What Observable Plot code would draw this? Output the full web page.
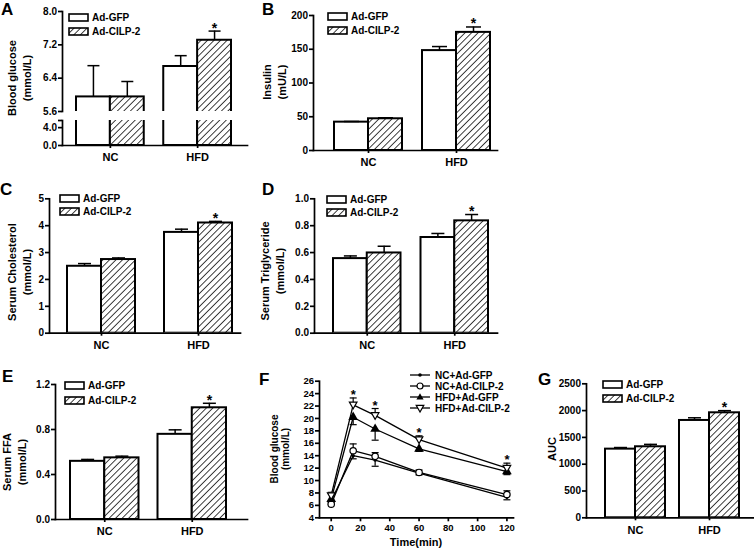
<!DOCTYPE html>
<html><head><meta charset="utf-8">
<script src="https://cdn.jsdelivr.net/npm/d3@7"></script>
<script src="https://cdn.jsdelivr.net/npm/@observablehq/plot@0.6"></script>
<style>
body{margin:0;background:#fff;}
#fig{position:relative;width:754px;height:549px;overflow:hidden;font-family:"Liberation Sans",Arial,sans-serif;font-weight:bold;color:#000;background:#fff;}
.panel{position:absolute;}
.panel svg{overflow:hidden;display:block;}
.panel svg [aria-label*="axis"], .panel svg [aria-label*="axis"] *, .panel svg [aria-label="frame"], .panel svg [aria-label="frame"] *{stroke-width:1.7px;}
.letter{position:absolute;font-size:17px;line-height:1;}
.ytitle{position:absolute;transform:translate(-50%,-50%) rotate(-90deg);white-space:pre;text-align:center;font-size:11px;line-height:15px;}
.leg{position:absolute;display:flex;align-items:center;gap:3px;font-size:10px;line-height:9px;height:9px;white-space:nowrap;}
.xtitle{position:absolute;transform:translate(-50%,-50%);font-size:11px;white-space:nowrap;}
</style>
</head><body>
<svg width="0" height="0" style="position:absolute"><defs>
<pattern id="hatch" patternUnits="userSpaceOnUse" width="4.6" height="4.6" patternTransform="rotate(45)">
<rect width="4.6" height="4.6" fill="white"/><line x1="0" y1="0" x2="0" y2="4.6" stroke="black" stroke-width="1.5"/></pattern>
</defs></svg>
<div id="fig"></div>
<script>
// ---------- data ----------
const groups = ["NC", "HFD"];
const seriesNames = ["Ad-GFP", "Ad-CILP-2"];
const starGroups = ["HFD"];

// A: Blood glucose (mmol/L), broken axis
const glucoseGFP = [5.95, 6.68], glucoseGFPErr = [0.75, 0.26];
const glucoseCILP = [5.95, 7.31], glucoseCILPErr = [0.37, 0.22];
const glucoseUpperDomain = [5.6, 8.0], glucoseUpperTicks = [5.6, 6.4, 7.2, 8.0];
const glucoseLowerDomain = [0, 5.6], glucoseLowerTicks = [0, 4.0, 5.6];
// B: Insulin (mU/L)
const insulinGFP = [42, 148], insulinGFPErr = [1, 6];
const insulinCILP = [47, 175], insulinCILPErr = [1.5, 8];
const insulinTicks = [0, 50, 100, 150, 200];
// C: Serum cholesterol (mmol/L)
const cholGFP = [2.49, 3.75], cholGFPErr = [0.1, 0.12];
const cholCILP = [2.74, 4.10], cholCILPErr = [0.06, 0.06];
const cholTicks = [0, 1, 2, 3, 4, 5];
// D: Serum triglyceride (mmol/L)
const tgGFP = [0.555, 0.712], tgGFPErr = [0.02, 0.03];
const tgCILP = [0.597, 0.836], tgCILPErr = [0.05, 0.047];
const tgTicks = [0, 0.2, 0.4, 0.6, 0.8, 1.0];
// E: Serum FFA (mmol/L)
const ffaGFP = [0.517, 0.757], ffaGFPErr = [0.017, 0.04];
const ffaCILP = [0.548, 0.993], ffaCILPErr = [0.015, 0.04];
const ffaTicks = [0, 0.4, 0.8, 1.2];
// F: glucose tolerance test
const times = [0, 15, 30, 60, 120];
const ipgttSeries = ["NC+Ad-GFP", "NC+Ad-CILP-2", "HFD+Ad-GFP", "HFD+Ad-CILP-2"];
const ncGfpGlucose = [6.8, 14.0, 13.3, 11.2, 7.3], ncGfpErr = [0.6, 0.5, 1.0, 0.3, 0.4];
const ncCilpGlucose = [6.2, 14.8, 13.9, 11.3, 7.75], ncCilpErr = [0.6, 1.1, 0.6, 0.4, 0.6];
const hfdGfpGlucose = [7.0, 20.2, 18.3, 15.1, 11.45], hfdGfpErr = [0.5, 1.2, 1.8, 0.4, 0.5];
const hfdCilpGlucose = [7.6, 22.2, 20.5, 16.6, 12.0], hfdCilpErr = [0.5, 1.1, 1.1, 0.6, 0.8];
const ipgttErrDir = [-1, 1, -1, 1];
const starTimes = [15, 30, 60, 120];
const timeDomain = [-8, 124.5], timeTicks = [0, 20, 40, 60, 80, 100, 120];
const ipgttDomain = [4, 26], ipgttTicks = [4, 6, 8, 10, 12, 14, 16, 18, 20, 22, 24, 26];
// G: AUC
const aucGFP = [1281, 1816], aucGFPErr = [30, 50];
const aucCILP = [1325, 1959], aucCILPErr = [45, 40];
const aucTicks = [0, 500, 1000, 1500, 2000, 2500];

// ---------- helpers ----------
const fig = document.getElementById("fig");
const FONT = '"Liberation Sans", Arial, sans-serif';
const hline = {draw(ctx, size) { const r = Math.sqrt(size / Math.PI); ctx.moveTo(-r, 0); ctx.lineTo(r, 0); }};
const triDown = {draw(ctx, size) { const r = Math.sqrt(size / Math.PI); ctx.moveTo(0, r * 1.05); ctx.lineTo(-r, -r * 0.7); ctx.lineTo(r, -r * 0.7); ctx.closePath(); }};

function rowsOf(gfp, gfpErr, cilp, cilpErr) {
  return groups.flatMap((g, i) => [
    {group: g, series: seriesNames[0], value: gfp[i], err: gfpErr[i]},
    {group: g, series: seriesNames[1], value: cilp[i], err: cilpErr[i]}
  ]);
}
function bandOpts(L) {
  const step = (L.barRight - L.barLeft + L.gap) / 2;
  const w = (step - L.gap) / 2;
  const total = (L.x1 - L.x0) - (L.barRight - L.barLeft);
  return {w, x: {domain: groups, paddingInner: L.gap / step, paddingOuter: total / 2 / step,
    align: total > 0 ? (L.barLeft - L.x0) / total : 0.5, round: false}};
}
function style(fs) {
  return {fontFamily: FONT, fontSize: fs + "px", fontWeight: "bold", background: "transparent", color: "black", overflow: "hidden"};
}
function place(el, left, top, width, xfs) {
  const div = document.createElement("div");
  div.className = "panel";
  div.style.left = left + "px"; div.style.top = top + "px"; div.style.width = width + "px";
  div.appendChild(el);
  fig.appendChild(div);
  if (xfs) el.querySelectorAll('[aria-label^="x-axis"]').forEach(g => { g.style.fontSize = xfs + "px"; });
  return el;
}
function barChart(o) {
  const gfp = o.data.filter(d => d.series === seriesNames[0]);
  const cilp = o.data.filter(d => d.series === seriesNames[1]);
  const {w, x} = bandOpts(o.layout);
  const marks = [
    Plot.barY(gfp, {x: "group", y1: 0, y2: "value", insetRight: w, fill: "white", stroke: "black", strokeWidth: 2, clip: true}),
    Plot.barY(cilp, {x: "group", y1: 0, y2: "value", insetLeft: w, fill: "url(#hatch)", stroke: "black", strokeWidth: 2, clip: true})
  ];
  if (o.errors !== false) {
    for (const [rs, off] of [[gfp, -w / 2], [cilp, w / 2]]) {
      marks.push(Plot.ruleX(rs, {x: "group", y1: "value", y2: d => d.value + d.err, dx: off, stroke: "black", strokeWidth: 1.5}));
      marks.push(Plot.dot(rs, {x: "group", y: d => d.value + d.err, dx: off, symbol: hline, r: o.capR ?? 6.5, stroke: "black", strokeWidth: 1.5, fill: "none"}));
    }
    marks.push(Plot.text(cilp.filter(d => starGroups.includes(d.group)), {x: "group", y: d => d.value + d.err, dx: w / 2, dy: -3, text: () => "*", fontSize: 14, fontWeight: "bold"}));
  }
  return Plot.plot({
    width: o.width, height: o.height,
    marginLeft: o.mL, marginRight: o.mR, marginTop: o.mT, marginBottom: o.mB,
    style: style(10),
    x: o.xAxis === false ? {...x, axis: null} : {...x, tickSize: 3, tickPadding: o.xPad ?? 5, line: true, label: null},
    y: {domain: o.domain, ticks: o.ticks, tickFormat: o.fmt, tickSize: 4, tickPadding: 1.5, line: true, label: null},
    marks
  });
}
function letter(t, left, top) {
  const d = document.createElement("div"); d.className = "letter"; d.textContent = t;
  d.style.left = left + "px"; d.style.top = top + "px"; fig.appendChild(d);
}
function ytitle(t, cx, cy, fs, lh) {
  const d = document.createElement("div"); d.className = "ytitle"; d.textContent = t;
  d.style.left = cx + "px"; d.style.top = cy + "px";
  if (fs) { d.style.fontSize = fs + "px"; d.style.lineHeight = lh + "px"; }
  fig.appendChild(d);
}
function barLegend(left, top, gap) {
  seriesNames.forEach((s, i) => {
    const row = document.createElement("div"); row.className = "leg";
    row.style.left = left + "px"; row.style.top = (top + i * gap - 1) + "px";
    row.innerHTML = `<svg width="21" height="9" style="overflow:visible"><rect x="1" y="1" width="19" height="7" fill="${i ? "url(#hatch)" : "white"}" stroke="black" stroke-width="1.6"/></svg><span>${s}</span>`;
    fig.appendChild(row);
  });
}

// ---------- A ----------
const aRows = rowsOf(glucoseGFP, glucoseGFPErr, glucoseCILP, glucoseCILPErr);
const aLayout = {x0: 62, x1: 247, barLeft: 76, barRight: 231, gap: 19.5};
place(barChart({data: aRows, layout: aLayout, width: 250, height: 118, mL: 62, mR: 3, mT: 11, mB: 7,
  domain: glucoseUpperDomain, ticks: glucoseUpperTicks, fmt: d3.format(".1f"), xAxis: false, capR: 6}), 0, 0, 250);
place(barChart({data: aRows, layout: aLayout, width: 250, height: 45, mL: 62, mR: 3, mT: 2, mB: 18,
  domain: glucoseLowerDomain, ticks: glucoseLowerTicks, fmt: d => d === glucoseLowerDomain[1] ? "" : d3.format(".1f")(d), errors: false}), 0, 118, 250, 11);
letter("A", 1, 1);
ytitle("Blood glucose\n(mmol/L)", 19.5, 78);
barLegend(68, 14, 14);

// ---------- B ----------
place(barChart({data: rowsOf(insulinGFP, insulinGFPErr, insulinCILP, insulinCILPErr),
  layout: {x0: 313, x1: 497, barLeft: 334, barRight: 490, gap: 20},
  width: 250, height: 168, mL: 63, mR: 3, mT: 15, mB: 18, domain: [0, 200], ticks: insulinTicks, fmt: d3.format("d"), capR: 7.5}), 250, 0, 250, 11);
letter("B", 262, 1);
ytitle("Insulin\n(mU/L)", 274.5, 82);
barLegend(327, 13, 14);

// ---------- C ----------
place(barChart({data: rowsOf(cholGFP, cholGFPErr, cholCILP, cholCILPErr),
  layout: {x0: 49, x1: 240, barLeft: 67, barRight: 232, gap: 29},
  width: 250, height: 172, mL: 49, mR: 10, mT: 18.3, mB: 19.3, domain: [0, 5], ticks: cholTicks, fmt: d3.format("d")}), 0, 180, 250, 11);
letter("C", 0, 181);
ytitle("Serum Cholesterol\n(mmol/L)", 19.5, 272);
barLegend(59, 195, 13);

// ---------- D ----------
place(barChart({data: rowsOf(tgGFP, tgGFPErr, tgCILP, tgCILPErr),
  layout: {x0: 314, x1: 497, barLeft: 333, barRight: 488, gap: 20},
  width: 250, height: 172, mL: 64, mR: 3, mT: 18.3, mB: 19.3, domain: [0, 1], ticks: tgTicks, fmt: d3.format(".1f")}), 250, 180, 250, 11);
letter("D", 262, 181);
ytitle("Serum Triglyceride\n(mmol/L)", 273, 271);
barLegend(326, 196, 13);

// ---------- E ----------
place(barChart({data: rowsOf(ffaGFP, ffaGFPErr, ffaCILP, ffaCILPErr),
  layout: {x0: 55, x1: 247, barLeft: 70, barRight: 226, gap: 19},
  width: 250, height: 180, mL: 55, mR: 3, mT: 24, mB: 21, domain: [0, 1.2], ticks: ffaTicks, fmt: d3.format(".1f")}), 0, 360, 250, 11);
letter("E", 2, 368);
ytitle("Serum FFA\n(mmol/L)", 14.5, 462);
barLegend(64, 382, 15);

// ---------- F ----------
const fMeans = [ncGfpGlucose, ncCilpGlucose, hfdGfpGlucose, hfdCilpGlucose];
const fErrs = [ncGfpErr, ncCilpErr, hfdGfpErr, hfdCilpErr];
const fRows = ipgttSeries.flatMap((s, k) => times.map((t, i) => ({series: s, t, v: fMeans[k][i], e: fErrs[k][i], dir: ipgttErrDir[k]})));
const bySeries = s => fRows.filter(d => d.series === s);
const fPlot = Plot.plot({
  width: 265, height: 189, marginLeft: 69, marginRight: 2, marginTop: 20.7, marginBottom: 31.7,
  style: style(9.5),
  x: {domain: timeDomain, ticks: timeTicks, tickSize: 4, tickPadding: 2, line: true, label: null},
  y: {domain: ipgttDomain, ticks: ipgttTicks, tickSize: 4, tickPadding: 1.5, line: true, label: null},
  marks: [
    Plot.line(fRows, {x: "t", y: "v", z: "series", stroke: "black", strokeWidth: 1.3}),
    Plot.ruleX(fRows, {x: "t", y1: "v", y2: d => d.v + d.dir * d.e, stroke: "black", strokeWidth: 1.2}),
    Plot.dot(fRows, {x: "t", y: d => d.v + d.dir * d.e, symbol: hline, r: 3.5, stroke: "black", strokeWidth: 1.2}),
    Plot.dot(bySeries(ipgttSeries[0]), {x: "t", y: "v", r: 1.8, fill: "black"}),
    Plot.dot(bySeries(ipgttSeries[1]), {x: "t", y: "v", r: 3.2, fill: "white", stroke: "black", strokeWidth: 1.2}),
    Plot.dot(bySeries(ipgttSeries[2]), {x: "t", y: "v", symbol: "triangle", r: 3.6, fill: "black"}),
    Plot.dot(bySeries(ipgttSeries[3]), {x: "t", y: "v", symbol: triDown, r: 3.8, fill: "white", stroke: "black", strokeWidth: 1.2}),
    Plot.text(bySeries(ipgttSeries[3]).filter(d => starTimes.includes(d.t)), {x: "t", y: d => d.v + d.e, dy: -3, text: () => "*", fontSize: 13, fontWeight: "bold"})
  ]
});
place(fPlot, 250, 360, 265);
letter("F", 259, 371);
ytitle("Blood glucose\n(mmol/L)", 280, 449, 10, 10.5);
{
  const t = document.createElement("div"); t.className = "xtitle"; t.textContent = "Time(min)";
  t.style.left = "416px"; t.style.top = "542px"; fig.appendChild(t);
  const markers = [
    '<circle cx="10" cy="5" r="1.8" fill="black"/>',
    '<circle cx="10" cy="5" r="3" fill="white" stroke="black" stroke-width="1.2"/>',
    '<path d="M10,1.2L13.6,7.6L6.4,7.6Z" fill="black"/>',
    '<path d="M10,9L6.2,2.4L13.8,2.4Z" fill="white" stroke="black" stroke-width="1.2"/>'
  ];
  ipgttSeries.forEach((s, i) => {
    const row = document.createElement("div"); row.className = "leg";
    row.style.left = "410px"; row.style.top = (370 + i * 11) + "px"; row.style.height = "10px";
    row.style.gap = "5px";
    row.innerHTML = `<svg width="20" height="10" style="overflow:visible"><line x1="0" x2="20" y1="5" y2="5" stroke="black" stroke-width="1.3"/>${markers[i]}</svg><span>${s}</span>`;
    fig.appendChild(row);
  });
}

// ---------- G ----------
place(barChart({data: rowsOf(aucGFP, aucGFPErr, aucCILP, aucCILPErr),
  layout: {x0: 586, x1: 753, barLeft: 605, barRight: 739, gap: 14},
  width: 234, height: 180, mL: 66, mR: 1, mT: 23.3, mB: 22.7, domain: [0, 2500], ticks: aucTicks, fmt: d3.format("d")}), 520, 360, 234, 11);
letter("G", 538, 371);
ytitle("AUC", 551.5, 449);
barLegend(602, 381, 14);
</script>
</body></html>
